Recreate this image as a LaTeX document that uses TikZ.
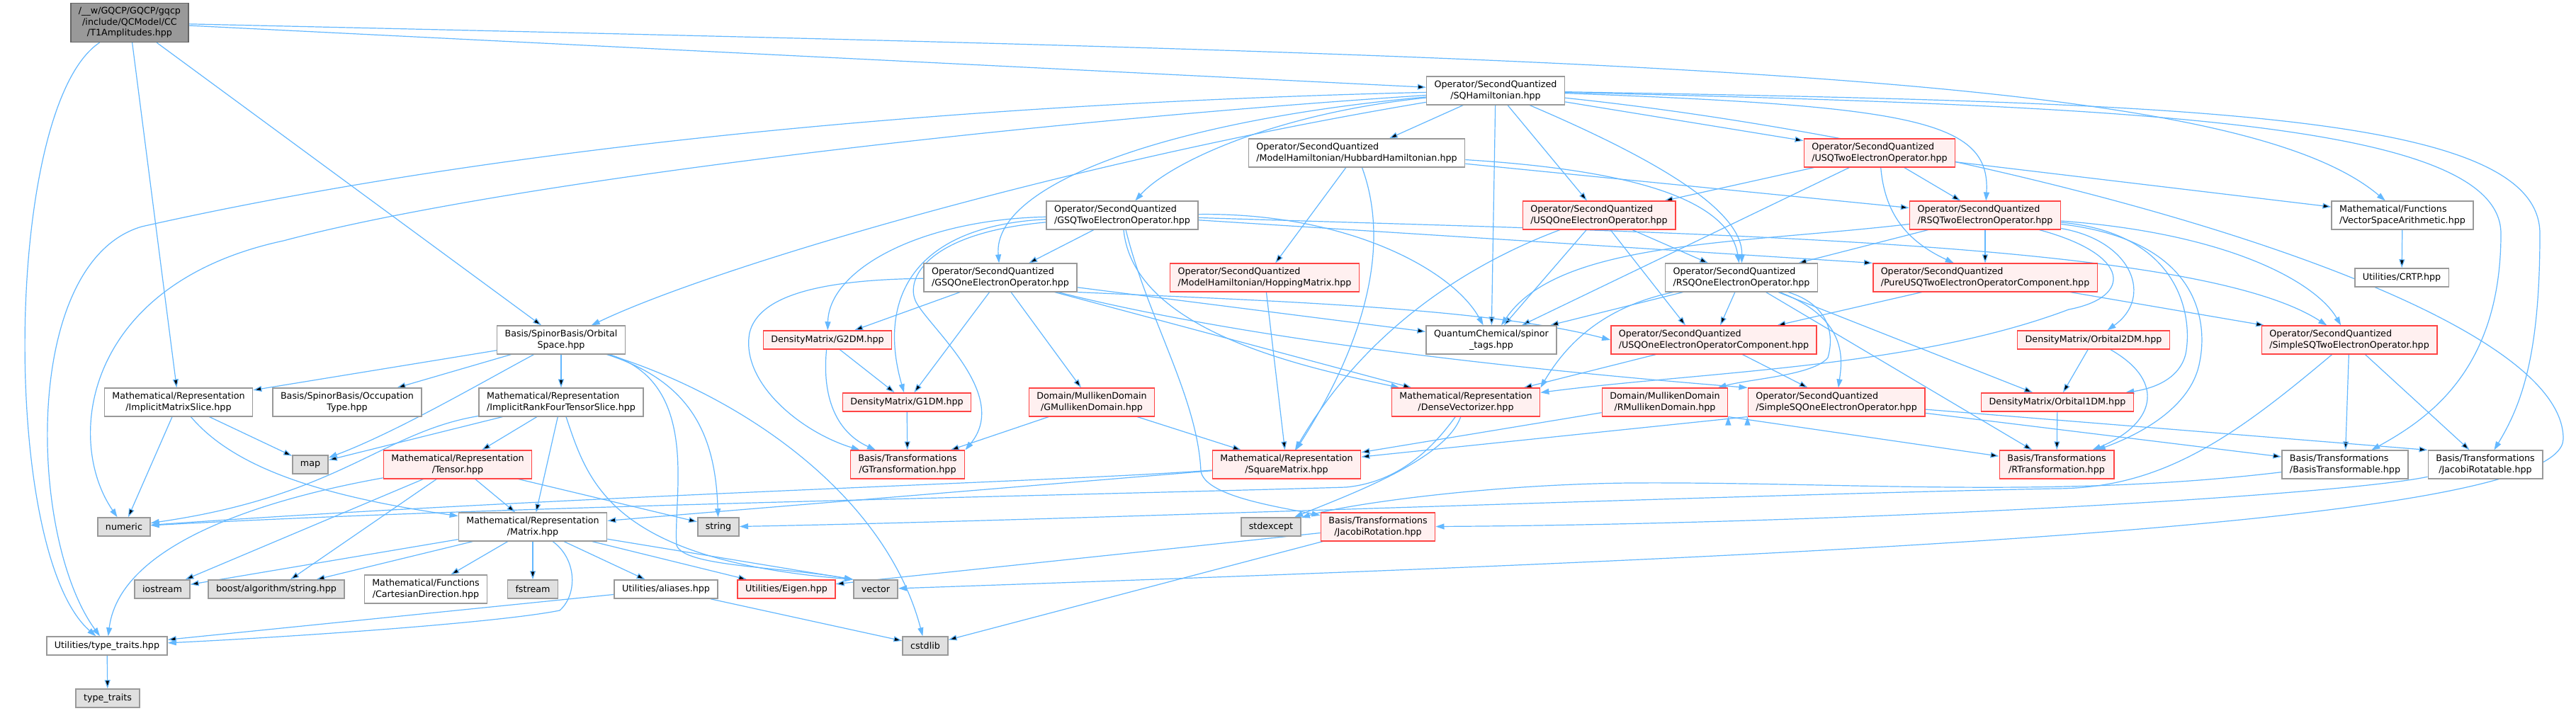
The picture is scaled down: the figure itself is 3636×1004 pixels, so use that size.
\documentclass[tikz,border=0pt]{standalone}
\usepackage{fontspec}
\setmainfont{DejaVu Sans}
\usepackage{xcolor}
\usetikzlibrary{arrows.meta}
\usetikzlibrary{backgrounds}
\definecolor{edgeblue}{HTML}{63B8FF}
\definecolor{boxgray}{HTML}{999999}
\definecolor{boxred}{HTML}{FF4444}
\definecolor{redfill}{HTML}{FFF0F0}
\definecolor{sysfill}{HTML}{E0E0E0}
\definecolor{rootfill}{HTML}{999999}
\definecolor{rootdraw}{HTML}{666666}

\begin{document}
\begin{tikzpicture}[x=1pt,y=-1pt,>={Triangle[length=12pt,width=8pt]},
    every node/.style={black,font=\fontsize{12.7}{15.5}\selectfont,align=center,
        inner xsep=11pt,inner ysep=5.9pt,minimum height=26pt,line width=1.5pt},
    hdr/.style={draw=boxgray,fill=white},
    redhdr/.style={draw=boxred,fill=redfill},
    syshdr/.style={draw=boxgray,fill=sysfill},
    rootfile/.style={draw=rootdraw,fill=rootfill},
    dep/.style={->,draw=edgeblue,line width=1.2pt}]
    \useasboundingbox (0,0) rectangle (3636,1004);

    \node[rootfile] (root) at (183,32) {/\_\_w/GQCP/GQCP/gqcp\\/include/QCModel/CC\\/T1Amplitudes.hpp};
    \node[hdr] (sqham) at (2111,128) {Operator/SecondQuantized\\/SQHamiltonian.hpp};
    \node[hdr,align=left] (hubbard) at (1915,216) {Operator/SecondQuantized\\/ModelHamiltonian/HubbardHamiltonian.hpp};
    \node[redhdr,align=left] (usq2) at (2653,216) {Operator/SecondQuantized\\/USQTwoElectronOperator.hpp};
    \node[hdr,align=left] (gsq2) at (1584,304) {Operator/SecondQuantized\\/GSQTwoElectronOperator.hpp};
    \node[redhdr,align=left] (usq1) at (2257,304) {Operator/SecondQuantized\\/USQOneElectronOperator.hpp};
    \node[redhdr,align=left] (rsq2) at (2802,304) {Operator/SecondQuantized\\/RSQTwoElectronOperator.hpp};
    \node[hdr,align=left] (vsa) at (3391,304) {Mathematical/Functions\\/VectorSpaceArithmetic.hpp};
    \node[hdr,align=left] (gsq1) at (1412,392) {Operator/SecondQuantized\\/GSQOneElectronOperator.hpp};
    \node[redhdr,align=left] (hopping) at (1785,392) {Operator/SecondQuantized\\/ModelHamiltonian/HoppingMatrix.hpp};
    \node[hdr,align=left] (rsq1) at (2458,392) {Operator/SecondQuantized\\/RSQOneElectronOperator.hpp};
    \node[redhdr,align=left] (pureusq2c) at (2802,392) {Operator/SecondQuantized\\/PureUSQTwoElectronOperatorComponent.hpp};
    \node[hdr] (crtp) at (3390,392) {Utilities/CRTP.hpp};
    \node[hdr] (orbspace) at (792,480) {Basis/SpinorBasis/Orbital\\Space.hpp};
    \node[redhdr] (g2dm) at (1168,480) {DensityMatrix/G2DM.hpp};
    \node[hdr] (spinortags) at (2105,480) {QuantumChemical/spinor\\\_tags.hpp};
    \node[redhdr,align=left] (usq1c) at (2419,480) {Operator/SecondQuantized\\/USQOneElectronOperatorComponent.hpp};
    \node[redhdr] (orb2dm) at (2955,480) {DensityMatrix/Orbital2DM.hpp};
    \node[redhdr,align=left] (simplesq2) at (3316,480) {Operator/SecondQuantized\\/SimpleSQTwoElectronOperator.hpp};
    \node[hdr] (ims) at (252,568) {Mathematical/Representation\\/ImplicitMatrixSlice.hpp};
    \node[hdr] (occ) at (490,568) {Basis/SpinorBasis/Occupation\\Type.hpp};
    \node[hdr,align=left] (irf) at (792,568) {Mathematical/Representation\\/ImplicitRankFourTensorSlice.hpp};
    \node[redhdr] (g1dm) at (1280,568) {DensityMatrix/G1DM.hpp};
    \node[redhdr] (gmull) at (1541,568) {Domain/MullikenDomain\\/GMullikenDomain.hpp};
    \node[redhdr] (densevec) at (2069,568) {Mathematical/Representation\\/DenseVectorizer.hpp};
    \node[redhdr] (rmull) at (2350,568) {Domain/MullikenDomain\\/RMullikenDomain.hpp};
    \node[redhdr,align=left] (simplesq1) at (2592,568) {Operator/SecondQuantized\\/SimpleSQOneElectronOperator.hpp};
    \node[redhdr] (orb1dm) at (2904,568) {DensityMatrix/Orbital1DM.hpp};
    \node[syshdr] (map) at (438,656) {map};
    \node[redhdr] (tensor) at (646,656) {Mathematical/Representation\\/Tensor.hpp};
    \node[redhdr] (gtrans) at (1281,656) {Basis/Transformations\\/GTransformation.hpp};
    \node[redhdr] (sqmat) at (1816,656) {Mathematical/Representation\\/SquareMatrix.hpp};
    \node[redhdr] (rtrans) at (2903,656) {Basis/Transformations\\/RTransformation.hpp};
    \node[hdr,align=left] (btrans) at (3310,656) {Basis/Transformations\\/BasisTransformable.hpp};
    \node[hdr] (jrotable) at (3508,656) {Basis/Transformations\\/JacobiRotatable.hpp};
    \node[syshdr] (numeric) at (175,744) {numeric};
    \node[hdr] (matrix) at (752,744) {Mathematical/Representation\\/Matrix.hpp};
    \node[syshdr] (string) at (1014,744) {string};
    \node[syshdr] (stdexcept) at (1794,744) {stdexcept};
    \node[redhdr] (jrot) at (1945,744) {Basis/Transformations\\/JacobiRotation.hpp};
    \node[syshdr] (iostream) at (229,832) {iostream};
    \node[syshdr] (boost) at (390,832) {boost/algorithm/string.hpp};
    \node[hdr] (cartdir) at (601,832) {Mathematical/Functions\\/CartesianDirection.hpp};
    \node[syshdr] (fstream) at (752,832) {fstream};
    \node[hdr] (aliases) at (940,832) {Utilities/aliases.hpp};
    \node[redhdr] (eigen) at (1110,832) {Utilities/Eigen.hpp};
    \node[syshdr] (vector) at (1236,832) {vector};
    \node[hdr] (typetraitshpp) at (151,912) {Utilities/type\_traits.hpp};
    \node[syshdr] (cstdlib) at (1306,912) {cstdlib};
    \node[syshdr] (typetraits) at (152,986) {type\_traits};

    \begin{scope}[on background layer]
    \fill[white] (0,0) rectangle (3636,1004);
    % straight includes
    \draw[dep] (root) edge (sqham) edge (ims) edge (orbspace);
    \draw[dep] (sqham) edge (hubbard) edge (usq2) edge (usq1) edge (spinortags);
    \draw[dep] (hubbard) edge (hopping) edge (rsq2);
    \draw[dep] (usq2) edge (usq1) edge (rsq2) edge (vsa) edge (spinortags);
    \draw[dep] (gsq2) edge (gsq1) edge (pureusq2c.north west);
    \draw[dep] (usq1) edge (rsq1) edge (spinortags) edge ([xshift=-40pt]usq1c.north);
    \draw[dep] (rsq2) edge (rsq1) edge (pureusq2c);
    \draw[dep] (vsa) edge (crtp);
    \draw[dep] (gsq1) edge (g2dm) edge (g1dm) edge (gmull) edge (spinortags) edge (densevec);
    \draw[dep] (hopping) edge (sqmat);
    \draw[dep] (rsq1) edge (spinortags) edge (usq1c) edge (rtrans) edge (orb1dm);
    \draw[dep] (pureusq2c) edge (usq1c) edge (simplesq2);
    \draw[dep] (orbspace) edge (ims) edge (occ) edge (irf);
    \draw[dep] (g2dm) edge (g1dm);
    \draw[dep] (usq1c) edge (densevec) edge (simplesq1);
    \draw[dep] (orb2dm) edge (orb1dm);
    \draw[dep] (simplesq2) edge (btrans) edge (jrotable);
    \draw[dep] (ims) edge (numeric) edge (map);
    \draw[dep] (irf) edge (map) edge (tensor) edge (matrix);
    \draw[dep] (g1dm) edge (gtrans);
    \draw[dep] (gmull) edge (gtrans) edge (sqmat);
    \draw[dep] (rmull) edge (sqmat);
    \draw[dep] (rmull.south east) edge (rtrans);
    \draw[dep] (simplesq1.south west) edge (sqmat);
    \draw[dep] (simplesq1) edge (btrans) edge (jrotable.north west);
    \draw[dep] (orb1dm) edge (rtrans);
    \draw[dep] (tensor) edge (matrix) edge (iostream) edge (boost) edge (string);
    \draw[dep] (sqmat) edge (matrix);
    \draw[dep] (jrot) edge (eigen) edge (cstdlib);
    \draw[dep] (matrix) edge (iostream) edge (boost) edge (cartdir) edge (fstream) edge (aliases) edge (eigen) edge (vector.north west);
    \draw[dep] (aliases) edge (typetraitshpp) edge (cstdlib);
    \draw[dep] (typetraitshpp) edge (typetraits);
    % routed includes
    \draw[dep] (root) .. controls (2300,80) and (3150,100) .. (vsa);
    \draw[dep] (root) .. controls (5,150) and (0,780) .. (typetraitshpp);
    \draw[dep] (sqham) .. controls (1800,160) and (1650,230) .. (gsq2);
    \draw[dep] (sqham) .. controls (1650,170) and (1400,260) .. (gsq1);
    \draw[dep] (sqham) .. controls (1500,230) and (1000,380) .. (orbspace);
    \draw[dep] (sqham) .. controls (2350,230) and (2460,300) .. (rsq1);
    \draw[dep] (sqham) .. controls (2700,150) and (2810,170) .. (rsq2);
    \draw[dep] (sqham) .. controls (3000,150) and (3530,170) .. (3530,330) .. controls (3530,520) and (3430,590) .. (btrans);
    \draw[dep] (sqham) .. controls (3100,145) and (3585,160) .. (3585,330) .. controls (3585,500) and (3560,570) .. (jrotable);
    \draw[dep] (sqham) .. controls (2800,200) and (3620,420) .. (3618,620) .. controls (3615,740) and (2600,785) .. (vector);
    \draw[dep] (sqham) .. controls (1200,150) and (600,230) .. (200,320) .. controls (30,370) and (40,760) .. (typetraitshpp);
    \draw[dep] (sqham) .. controls (1400,175) and (700,260) .. (400,340) .. controls (120,400) and (90,620) .. (numeric);
    \draw[dep] (hubbard) .. controls (1975,380) and (1890,540) .. (sqmat);
    \draw[dep] (hubbard) .. controls (2300,240) and (2440,280) .. (rsq1);
    \draw[dep] (usq2) .. controls (2660,300) and (2690,340) .. (pureusq2c);
    \draw[dep] (gsq2) .. controls (1300,310) and (1170,380) .. (g2dm);
    \draw[dep] (gsq2) .. controls (1280,320) and (1240,430) .. (g1dm);
    \draw[dep] (gsq2) .. controls (1300,330) and (1275,400) .. (1295,430) .. controls (1320,470) and (1425,560) .. (gtrans.north east);
    \draw[dep] (gsq2) .. controls (1620,450) and (1690,560) .. (1695,665) .. controls (1700,700) and (1800,715) .. (jrot);
    \draw[dep] (gsq2) .. controls (1600,470) and (1850,520) .. (densevec);
    \draw[dep] (gsq2) .. controls (1900,300) and (2050,380) .. (spinortags);
    \draw[dep] (gsq2) .. controls (2400,330) and (3100,340) .. (simplesq2);
    \draw[dep] (usq1) .. controls (2080,370) and (1930,460) .. (sqmat);
    \draw[dep] (rsq2) .. controls (2450,345) and (2200,340) .. (spinortags);
    \draw[dep] (rsq2) .. controls (3010,340) and (3040,420) .. (orb2dm);
    \draw[dep] (rsq2) .. controls (3080,330) and (3095,450) .. (3085,500) .. controls (3075,540) and (3030,550) .. (orb1dm);
    \draw[dep] (rsq2) .. controls (3110,340) and (3115,460) .. (3105,510) .. controls (3095,570) and (3030,610) .. (rtrans);
    \draw[dep] (rsq2) .. controls (3150,330) and (3270,400) .. (simplesq2);
    \draw[dep] (rsq2) .. controls (3010,360) and (3010,420) .. (2920,437) .. controls (2700,520) and (2400,525) .. (densevec);
    \draw[dep] (rsq1) .. controls (2280,430) and (2220,470) .. (densevec.north east);
    \draw[dep] (rsq1) .. controls (2580,430) and (2590,470) .. (2580,505) .. controls (2560,530) and (2470,535) .. (rmull);
    \draw[dep] (rsq1) .. controls (2610,450) and (2600,510) .. (simplesq1);
    \draw[dep] (gsq1) .. controls (1150,395) and (1070,420) .. (1058,470) .. controls (1045,540) and (1130,610) .. (gtrans);
    \draw[dep] (gsq1.south east) .. controls (1800,425) and (2100,435) .. (usq1c.west);
    \draw[dep] (gsq1) .. controls (1800,490) and (2250,530) .. (simplesq1.north west);
    \draw[dep] (g2dm) .. controls (1160,560) and (1180,610) .. (gtrans);
    \draw[dep] (densevec) .. controls (2040,650) and (1900,700) .. (stdexcept);
    \draw[dep] (densevec) .. controls (2010,650) and (1960,682) .. (1900,688) .. controls (1500,700) and (700,715) .. (numeric);
    \draw[dep] (simplesq2) .. controls (3150,620) and (3050,690) .. (2900,690) .. controls (2400,700) and (1500,735) .. (string);
    \draw[dep] (orb2dm) .. controls (3060,540) and (3040,600) .. (rtrans);
    \draw[dep] (btrans) .. controls (2900,705) and (2600,680) .. (2300,682) .. controls (2100,684) and (1900,712) .. (stdexcept);
    \draw[dep] (jrotable) .. controls (3300,700) and (2600,740) .. (jrot);
    \draw[dep] (sqmat) .. controls (1500,680) and (800,700) .. (numeric);
    \draw[dep] (matrix) .. controls (815,790) and (815,840) .. (790,862) .. controls (700,880) and (400,900) .. (typetraitshpp);
    \draw[dep] (tensor) .. controls (400,700) and (170,760) .. (typetraitshpp);
    \draw[dep] (irf) .. controls (540,610) and (480,700) .. (numeric);
    \draw[dep] (irf) .. controls (830,680) and (860,790) .. (vector.north west);
    \draw[dep] (ims) .. controls (330,660) and (450,700) .. (matrix);
    \draw[dep] (orbspace) .. controls (680,540) and (560,610) .. (map);
    \draw[dep] (orbspace) .. controls (990,540) and (950,700) .. (955,770) .. controls (965,800) and (1100,800) .. (vector.north west);
    \draw[dep] (orbspace) .. controls (1050,560) and (1250,700) .. (cstdlib);
    \draw[dep] (orbspace) .. controls (980,540) and (1010,620) .. (string);
    \end{scope}
\end{tikzpicture}
\end{document}
